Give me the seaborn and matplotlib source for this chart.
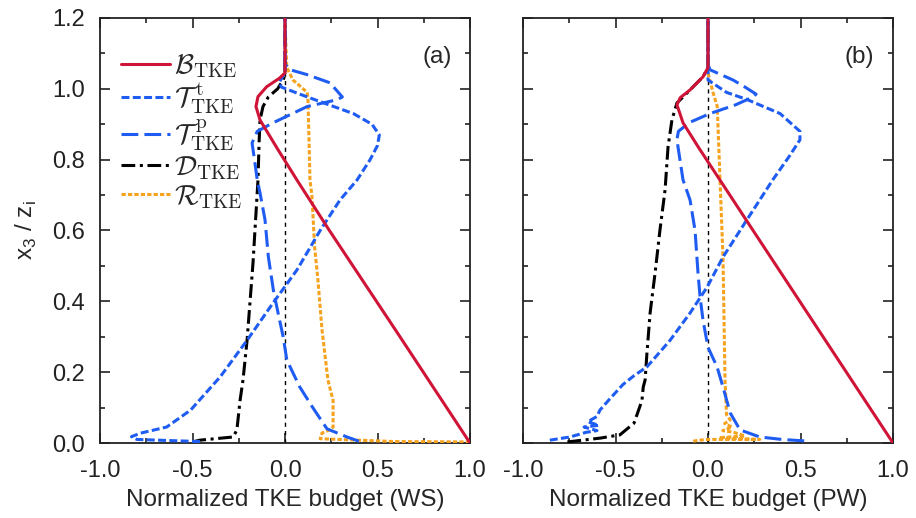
import matplotlib
matplotlib.use("Agg")
import matplotlib.pyplot as plt
import seaborn as sns
from matplotlib.font_manager import FontProperties
from matplotlib.ticker import MultipleLocator

# ---------------- data (x = normalized budget, y = x3/zi) ----------------
# Panel (a): WS
B_ws_x = [1.0, 0.60, 0.24, 0.064, -0.04, -0.135, -0.157, -0.146, -0.099, -0.03, 0.0, 0.0]
B_ws_y = [0.0, 0.317, 0.60, 0.743, 0.83, 0.912, 0.95, 0.978, 1.006, 1.03, 1.045, 1.2]

Tt_ws_x = [-0.46, -0.80, -0.83, -0.78, -0.64, -0.51, -0.35, -0.205, -0.065, 0.065, 0.19, 0.297,
           0.39, 0.46, 0.50, 0.51, 0.47, 0.37, 0.21, 0.08, -0.02, -0.03, 0.0, 0.0]
Tt_ws_y = [0.004, 0.010, 0.018, 0.028, 0.045, 0.093, 0.187, 0.29, 0.395, 0.489, 0.60, 0.686,
           0.743, 0.80, 0.84, 0.87, 0.90, 0.93, 0.96, 0.985, 1.005, 1.02, 1.045, 1.2]

Tp_ws_x = [0.40, 0.335, 0.227, 0.15, 0.08, 0.01, -0.01, -0.037, -0.063, -0.09, -0.108, -0.135,
           -0.15, -0.165, -0.178, -0.15, -0.065, 0.12, 0.28, 0.31, 0.243, 0.12, 0.027, 0.0, 0.0]
Tp_ws_y = [0.005, 0.017, 0.04, 0.10, 0.158, 0.234, 0.30, 0.366, 0.432, 0.526, 0.63, 0.706,
           0.743, 0.80, 0.847, 0.88, 0.904, 0.95, 0.969, 0.977, 1.017, 1.04, 1.054, 1.07, 1.2]

D_ws_x = [-0.50, -0.46, -0.28, -0.26, -0.243, -0.227, -0.205, -0.173, -0.146, -0.14, -0.135,
          -0.119, -0.09, -0.04, -0.01, 0.0, 0.0]
D_ws_y = [0.003, 0.008, 0.017, 0.037, 0.12, 0.178, 0.29, 0.508, 0.743, 0.85, 0.912,
          0.95, 0.977, 1.0, 1.025, 1.04, 1.2]

R_ws_x = [1.0, 0.6, 0.19, 0.20, 0.24, 0.26, 0.26, 0.232, 0.20, 0.178, 0.16, 0.146, 0.135,
          0.13, 0.124, 0.12, 0.043, 0.01, 0.005, 0.0]
R_ws_y = [0.003, 0.004, 0.012, 0.028, 0.037, 0.045, 0.12, 0.178, 0.32, 0.46, 0.554, 0.695, 0.743,
          0.85, 0.969, 0.99, 1.025, 1.06, 1.12, 1.2]

# Panel (b): PW
B_pw_x = [1.0, 0.24, -0.053, -0.135, -0.168, -0.15, -0.097, -0.027, 0.0, 0.0]
B_pw_y = [0.0, 0.603, 0.836, 0.904, 0.955, 0.975, 0.997, 1.034, 1.06, 1.2]

Tt_pw_x = [-0.855, -0.746, -0.66, -0.60, -0.67, -0.59, -0.65, -0.60, -0.584, -0.53, -0.46, -0.40,
           -0.33, -0.205, -0.097, -0.005, 0.081, 0.21, 0.35, 0.44, 0.497, 0.497, 0.39, 0.21,
           0.10, 0.0, 0.0]
Tt_pw_y = [0.008, 0.017, 0.03, 0.035, 0.045, 0.05, 0.06, 0.075, 0.093, 0.125, 0.165, 0.19,
           0.215, 0.29, 0.367, 0.44, 0.525, 0.63, 0.743, 0.81, 0.856, 0.88, 0.93, 0.97,
           0.99, 1.025, 1.2]

Tp_pw_x = [0.52, 0.40, 0.28, 0.173, 0.12, 0.081, 0.049, 0.0, -0.027, -0.043, -0.054, -0.07,
           -0.097, -0.135, -0.168, -0.16, -0.10, 0.01, 0.15, 0.243, 0.26, 0.20, 0.135, 0.01, 0.0, 0.0]
Tp_pw_y = [0.006, 0.010, 0.017, 0.037, 0.085, 0.158, 0.215, 0.27, 0.347, 0.413, 0.48, 0.6,
           0.686, 0.743, 0.856, 0.88, 0.905, 0.93, 0.955, 0.977, 0.985, 1.005, 1.025, 1.054, 1.07, 1.2]

D_pw_x = [-0.76, -0.58, -0.476, -0.40, -0.357, -0.35, -0.34, -0.33, -0.313, -0.286, -0.26,
          -0.232, -0.216, -0.195, -0.168, -0.097, -0.027, 0.0, 0.0]
D_pw_y = [0.003, 0.014, 0.023, 0.056, 0.12, 0.158, 0.178, 0.254, 0.367, 0.48, 0.6,
          0.715, 0.836, 0.912, 0.96, 0.997, 1.034, 1.06, 1.2]

R_pw_x = [-0.08, -0.05, 0.0, 0.28, 0.06, 0.2, 0.14, 0.08, 0.13, 0.09, 0.12, 0.1, 0.092,
          0.081, 0.065, 0.05, 0.027, 0.0, 0.0]
R_pw_y = [0.005, 0.008, 0.01, 0.01, 0.015, 0.02, 0.03, 0.035, 0.045, 0.055, 0.065, 0.08, 0.178,
          0.525, 0.743, 0.95, 0.99, 1.045, 1.2]

labels = [r'$\mathcal{B}_{\rm TKE}$', r'$\mathcal{T}^{\;\rm t}_{\rm TKE}$',
          r'$\mathcal{T}^{\;\rm p}_{\rm TKE}$', r'$\mathcal{D}_{\rm TKE}$', r'$\mathcal{R}_{\rm TKE}$']
panel_tags = ['(a)', '(b)']
xlabels = ['Normalized TKE budget (WS)', 'Normalized TKE budget (PW)']
ylabel = r'x$_\mathregular{3}$ / z$_\mathregular{i}$'
x_ticks = [-1.0, -0.5, 0.0, 0.5, 1.0]
y_ticks = [0.0, 0.2, 0.4, 0.6, 0.8, 1.0, 1.2]
ref_x = 0.0
tag_pos = (0.82, 1.09)

# ---------------- styles ----------------
RED = '#cf1438'
BLUE = '#1f5cf2'
ORANGE = '#f5a21e'
styles = [
    dict(color=RED, linestyle='-'),
    dict(color=BLUE, linestyle=(0, (2.6, 1.1))),
    dict(color=BLUE, linestyle=(0, (5.5, 2.0))),
    dict(color='black', linestyle=(0, (4.5, 1.5, 1.0, 1.5))),
    dict(color=ORANGE, linestyle=(0, (1.4, 0.7))),
]

sns.set_style('ticks')
plt.rcParams['font.family'] = ['Liberation Sans', 'DejaVu Sans']
plt.rcParams['font.size'] = 17

fig = plt.figure(figsize=(9.16, 5.18), dpi=100)
W, H = 916, 518
axes = [fig.add_axes([100 / W, (H - 443) / H, 370 / W, 425 / H]),
        fig.add_axes([523 / W, (H - 443) / H, 370 / W, 425 / H])]

data = [
    [(B_ws_x, B_ws_y), (Tt_ws_x, Tt_ws_y), (Tp_ws_x, Tp_ws_y), (D_ws_x, D_ws_y), (R_ws_x, R_ws_y)],
    [(B_pw_x, B_pw_y), (Tt_pw_x, Tt_pw_y), (Tp_pw_x, Tp_pw_y), (D_pw_x, D_pw_y), (R_pw_x, R_pw_y)],
]
draw_order = [4, 3, 2, 1, 0]

for k, ax in enumerate(axes):
    ax.axvline(ref_x, color='black', lw=1.0, linestyle=(0, (3, 3)), zorder=1)
    for i in draw_order:
        xs, ys = data[k][i]
        sns.lineplot(x=xs, y=ys, sort=False, estimator=None, ax=ax, lw=2.2,
                     label=labels[i], zorder=3 + (5 - i), **styles[i])
    ax.set_xlim(-1.0, 1.0)
    ax.set_ylim(0.0, 1.2)
    ax.set_xticks(x_ticks)
    ax.set_xticklabels([f'{v:.1f}' for v in x_ticks])
    ax.xaxis.set_minor_locator(MultipleLocator(0.25))
    ax.set_yticks(y_ticks)
    ax.yaxis.set_minor_locator(MultipleLocator(0.1))
    ax.tick_params(which='both', direction='in', top=True, right=True, width=1.2, colors='#222222')
    ax.tick_params(which='major', length=7, labelsize=17)
    ax.tick_params(which='minor', length=3.5)
    ax.tick_params(axis='x', which='major', pad=12)
    ax.tick_params(axis='y', which='major', pad=11)
    for s in ax.spines.values():
        s.set_linewidth(1.3)
        s.set_color('#222222')
    ax.set_xlabel(xlabels[k], fontsize=17.5, labelpad=5)
    ax.text(tag_pos[0], tag_pos[1], panel_tags[k], ha='center', va='center', fontsize=17.5)
    leg = ax.get_legend()
    if leg is not None:
        leg.remove()

axes[1].tick_params(axis='y', which='both', labelleft=False)
axes[0].set_ylabel(ylabel, fontsize=17.5, labelpad=9)

h, l = axes[0].get_legend_handles_labels()
order = [l.index(lab) for lab in labels]
axes[0].legend([h[j] for j in order], [l[j] for j in order], loc='upper left',
               bbox_to_anchor=(0.005, 0.965), frameon=False,
               prop=FontProperties(size=20, math_fontfamily='cm'),
               handlelength=1.75, handletextpad=0.15, labelspacing=0.05, borderaxespad=0.3)

fig.savefig('out.png', dpi=100)
